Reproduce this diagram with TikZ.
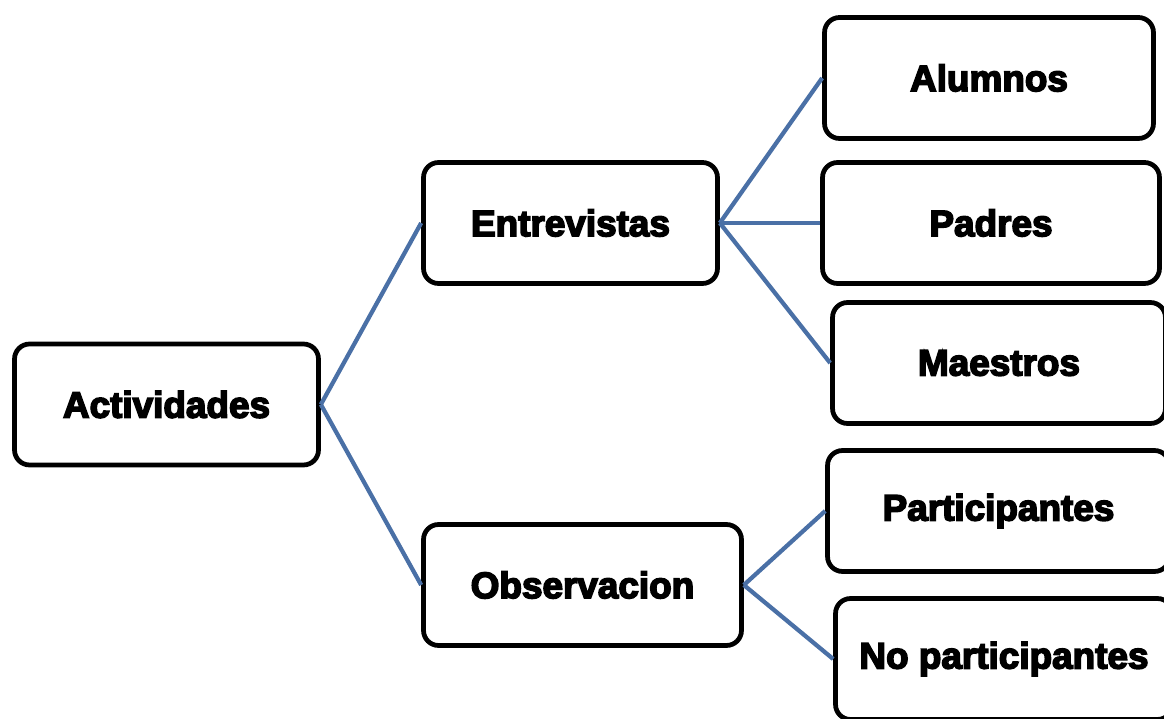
\documentclass[tikz,border=0pt]{standalone}
\usepackage{fontspec}
\usepackage{tikz}
\usetikzlibrary{positioning}
\newfontfamily\heavy{Liberation Sans}
\newcommand{\heavytext}[1]{\special{pdf:literal direct 2 Tr 0.9 w}#1\special{pdf:literal direct 0 Tr}}

\begin{document}
\begin{tikzpicture}[x=0.02cm, y=-0.02cm,
    box/.style={draw, line width=0.095cm, rounded corners=0.3cm, fill=white,
        minimum height=2.42cm, font=\heavy\bfseries\fontsize{21}{25}\selectfont},
    link/.style={draw=linkblue, line width=0.085cm}]
\definecolor{linkblue}{HTML}{4A70A6}

\useasboundingbox (0,0) rectangle (1164,719);
\clip (0,0) rectangle (1164,719);

% Root
\node[box, minimum width=6.08cm] (root) at (166.5,404.5) {\heavytext{Actividades}};

% Second level
\node[box, minimum width=5.88cm] (entr) at (570.5,223) {\heavytext{Entrevistas}};
\node[box, minimum width=6.36cm] (obs) at (582.5,585) {\heavytext{Observacion}};

% Leaves
\node[box, minimum width=6.58cm] (alum) at (989,78) {\heavytext{Alumnos}};
\node[box, minimum width=6.74cm] (pad) at (991,223) {\heavytext{Padres}};
\node[box, minimum width=6.66cm] (maes) at (999,363) {\heavytext{Maestros}};
\node[box, minimum width=6.84cm] (part) at (998.5,511) {\heavytext{Participantes}};
\node[box, minimum width=6.74cm] (nopart) at (1004,659) {\heavytext{No participantes}};

% Connections
\foreach \c in {entr,obs} {
    \draw[link] (root.east) -- (\c.west);
}
\foreach \c in {alum,pad,maes} {
    \draw[link] (entr.east) -- (\c.west);
}
\foreach \c in {part,nopart} {
    \draw[link] (obs.east) -- (\c.west);
}

\end{tikzpicture}
\end{document}
